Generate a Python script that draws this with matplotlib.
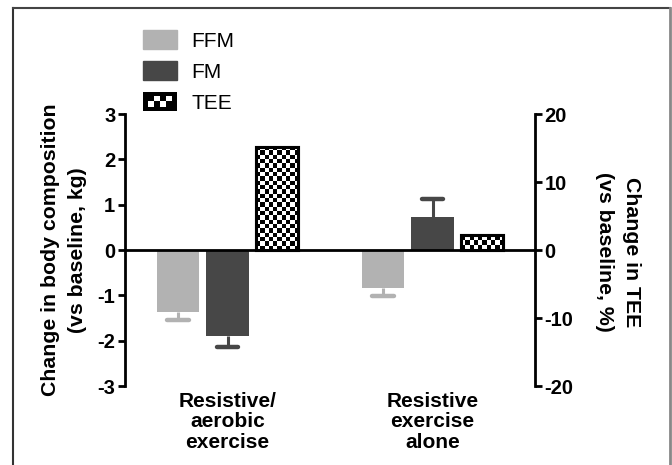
import numpy as np
import matplotlib
matplotlib.use("Agg")
import matplotlib.pyplot as plt
from matplotlib.patches import Patch, Rectangle
from matplotlib.lines import Line2D
from matplotlib.legend_handler import HandlerBase

# ---- data ----
groups = ["Resistive/\naerobic\nexercise", "Resistive\nexercise\nalone"]
ffm_mean = [-1.37, -0.84]
ffm_err = [0.18, 0.17]
fm_mean = [-1.90, 0.73]
fm_err = [0.24, 0.39]
tee_mean = [15.2, 2.2]   # percent, right axis
left_ticks = [-3, -2, -1, 0, 1, 2, 3]
right_ticks = [-20, -10, 0, 10, 20]
legend_labels = ["FFM", "FM", "TEE"]

c_ffm = "#b2b2b2"
c_fm = "#474747"

plt.rcParams["font.family"] = ["Liberation Sans", "DejaVu Sans"]

fig = plt.figure(figsize=(6.72, 4.65), dpi=100)
ax = fig.add_axes([125/672, 1-386/465, 410/672, 272/465])
ax2 = ax.twinx()

x = np.arange(len(groups))
off = 0.24
w = 0.205

ax.bar(x - off, ffm_mean, w, color=c_ffm, zorder=3)
ax.bar(x, fm_mean, w, color=c_fm, zorder=3)

def err_lines(xs, means, errs, color):
    for xi, m, e in zip(xs, means, errs):
        tip = m + np.sign(m) * e
        ax.plot([xi, xi], [m, tip], color=color, lw=2.2, zorder=2,
                solid_capstyle="butt")
        ax.plot([xi - 0.053, xi + 0.053], [tip, tip], color=color, lw=3.2,
                zorder=2, solid_capstyle="round")

err_lines(x - off, ffm_mean, ffm_err, c_ffm)
err_lines(x, fm_mean, fm_err, c_fm)

ax.set_xlim(-0.5, 1.5)
ax.set_ylim(-3, 3)
ax2.set_ylim(-20, 20)

tee_bars = ax2.bar(x + off, tee_mean, w, facecolor="white", edgecolor="black",
                   linewidth=2.2, zorder=3)

# checkerboard texture clipped to TEE bars
fig.canvas.draw()
cell_px = 4.3
for b in tee_bars:
    x0, y0 = b.get_x(), min(b.get_y(), b.get_y() + b.get_height())
    x1, y1 = x0 + b.get_width(), max(b.get_y(), b.get_y() + b.get_height())
    p0 = ax2.transData.transform((x0, y0))
    p1 = ax2.transData.transform((x1, y1))
    nx = max(1, int(round(abs(p1[0] - p0[0]) / cell_px)))
    ny = max(1, int(round(abs(p1[1] - p0[1]) / cell_px)))
    board = (np.add.outer(np.arange(ny), np.arange(nx)) % 2).astype(float)
    im = ax2.imshow(board, cmap="gray", extent=(x0, x1, y0, y1), aspect="auto",
                    interpolation="nearest", zorder=3.5, vmin=0, vmax=1)
    im.set_clip_path(b)
    ax2.bar(b.get_x() + b.get_width()/2, b.get_height(), b.get_width(),
            bottom=b.get_y(), facecolor="none", edgecolor="black",
            linewidth=2.2, zorder=4)
ax2.set_xlim(-0.5, 1.5)
ax2.set_ylim(-20, 20)

ax.axhline(0, color="black", lw=2, zorder=5)

for a in (ax, ax2):
    for s in ("top", "bottom"):
        a.spines[s].set_visible(False)
ax.spines["right"].set_visible(False)
ax2.spines["left"].set_visible(False)
ax.spines["left"].set_linewidth(2)
ax2.spines["right"].set_linewidth(2)

ax.set_yticks(left_ticks)
ax.set_yticklabels([str(t) for t in left_ticks], fontsize=14.5, fontweight="bold")
ax2.set_yticks(right_ticks)
ax2.set_yticklabels([str(t) for t in right_ticks], fontsize=14.5, fontweight="bold")
ax.tick_params(axis="y", direction="out", length=5, width=2, pad=2)
ax2.tick_params(axis="y", direction="out", length=5, width=2, pad=2)

ax.set_xticks(x)
ax.set_xticklabels(groups, fontsize=15, fontweight="bold", linespacing=1.12)
ax.tick_params(axis="x", length=0, pad=4)

fig.text(64/672, 1-250/465, "Change in body composition\n(vs baseline, kg)",
         fontsize=15.3, fontweight="bold", rotation=90, ha="center", va="center",
         linespacing=1.55, multialignment="center")
fig.text(618/672, 1-252/465, "Change in TEE\n(vs baseline, %)",
         fontsize=15.3, fontweight="bold", rotation=270, ha="center", va="center",
         linespacing=1.55, multialignment="center")


class CheckerHandler(HandlerBase):
    def create_artists(self, legend, orig_handle, xdescent, ydescent, width,
                       height, fontsize, trans):
        arts = [Rectangle((-xdescent, -ydescent), width, height,
                          facecolor="black", edgecolor="black", lw=0,
                          transform=trans)]
        nx, ny = 4, 2
        bw = 0.14 * width
        bh = 0.2 * height
        iw = (width - 2 * bw) / nx
        ih = (height - 2 * bh) / ny
        for i in range(nx):
            for j in range(ny):
                if (i + j) % 2 == 0:
                    arts.append(Rectangle((-xdescent + bw + i * iw,
                                           -ydescent + bh + j * ih), iw, ih,
                                          facecolor="white", lw=0,
                                          transform=trans))
        return arts


handles = [Patch(facecolor=c_ffm, edgecolor=c_ffm),
           Patch(facecolor=c_fm, edgecolor=c_fm),
           Patch(facecolor="white", edgecolor="black")]
leg = fig.legend(handles, legend_labels, loc="upper left",
                 bbox_to_anchor=(135/672, 1-22/465), frameon=False, fontsize=15,
                 handlelength=1.6, handleheight=1.0, labelspacing=0.5,
                 handletextpad=0.7, borderaxespad=0,
                 handler_map={handles[2]: CheckerHandler()})

# outer frame
fig.add_artist(Line2D([13/672, 13/672], [0, 1-8/465], color="#333333", lw=1.5,
                      transform=fig.transFigure))
fig.add_artist(Line2D([13/672, 670/672], [1-8/465, 1-8/465], color="#444444",
                      lw=1.5, transform=fig.transFigure))
fig.add_artist(Line2D([670/672, 670/672], [0, 1-8/465], color="#888888", lw=2,
                      transform=fig.transFigure))

fig.savefig("out.png", dpi=100)
